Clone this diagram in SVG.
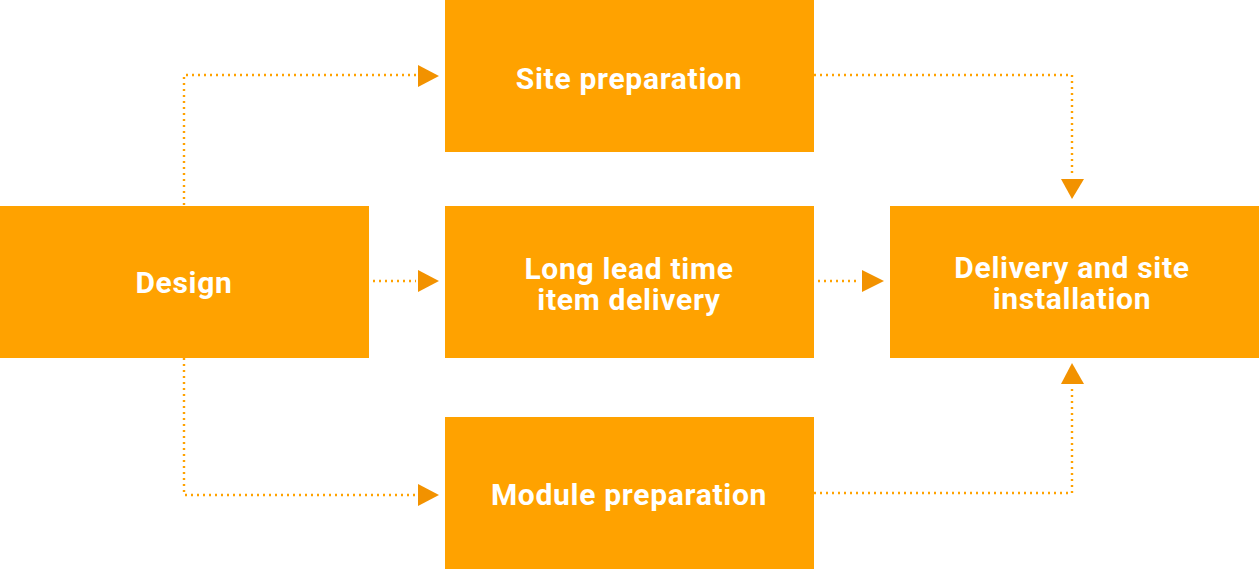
<svg xmlns="http://www.w3.org/2000/svg" width="1260" height="569" viewBox="0 0 1260 569">
<style>
.box{fill:#FFA200}
.lbl{font-family:Roboto,"Liberation Sans",sans-serif;font-weight:700;font-size:30px;letter-spacing:0.7px;fill:#FFFFFF;text-anchor:middle}
.ln{fill:none;stroke:#FFA200;stroke-width:2.4;stroke-dasharray:2 4}
.ah{fill:#F29200}
</style>
<rect width="1260" height="569" fill="#FFFFFF"/>
<g id="connectors">
<path class="ln" d="M184 205 V75 H416"/>
<polygon class="ah" points="418,65 439,76 418,87"/>
<path class="ln" d="M373 281 H416"/>
<polygon class="ah" points="418,270 439,281 418,292"/>
<path class="ln" d="M184 358 V495 H416"/>
<polygon class="ah" points="418,484 439,495 418,506"/>
<path class="ln" d="M814 75 H1072 V176"/>
<polygon class="ah" points="1061,179 1084,179 1072,199"/>
<path class="ln" d="M818 281 H860"/>
<polygon class="ah" points="862,270 884,281 862,292"/>
<path class="ln" d="M814 493 H1072 V387"/>
<polygon class="ah" points="1061,384 1084,384 1072,363"/>
</g>
<g id="design">
<rect class="box" x="0" y="206" width="369" height="152"/>
<text class="lbl" x="184" y="293">Design</text>
</g>
<g id="site">
<rect class="box" x="445" y="0" width="369" height="152"/>
<text class="lbl" x="629" y="89">Site preparation</text>
</g>
<g id="longlead">
<rect class="box" x="445" y="206" width="369" height="152"/>
<text class="lbl" x="629" y="279"><tspan x="629">Long lead time</tspan><tspan x="629" dy="31">item delivery</tspan></text>
</g>
<g id="module">
<rect class="box" x="445" y="417" width="369" height="152"/>
<text class="lbl" x="629" y="505">Module preparation</text>
</g>
<g id="delivery">
<rect class="box" x="890" y="206" width="369" height="152"/>
<text class="lbl" x="1072" y="278"><tspan x="1072">Delivery and site</tspan><tspan x="1072" dy="31">installation</tspan></text>
</g>
</svg>
